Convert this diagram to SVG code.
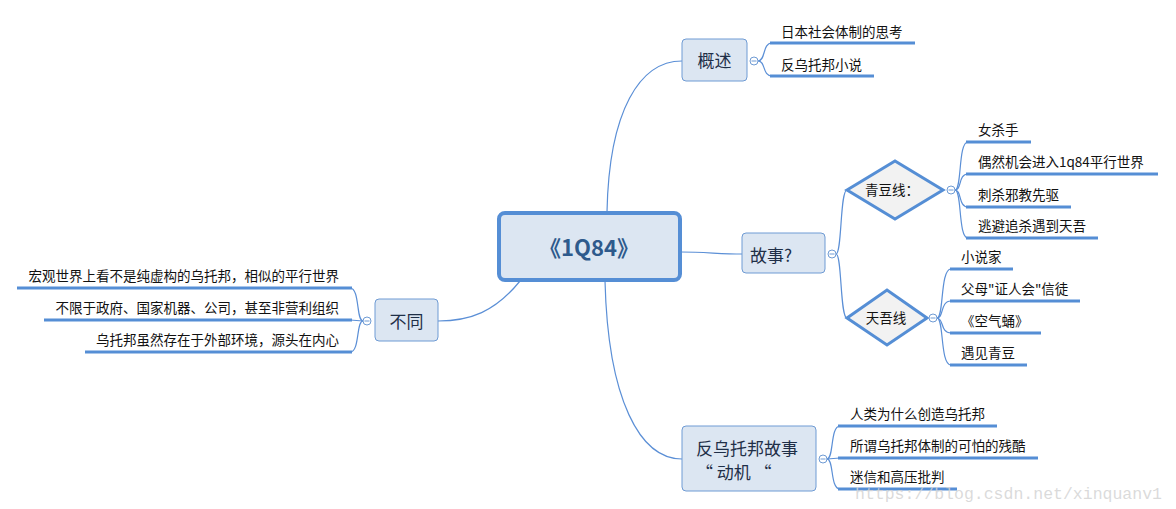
<svg xmlns="http://www.w3.org/2000/svg" width="1176" height="509" viewBox="0 0 1176 509">
<style>
.bg{fill:#ffffff}
.node{fill:#dce6f2;stroke:#6f9bd4;stroke-width:1}
.dia{fill:#f2f2f2;stroke:#558ed5;stroke-width:3}
.conn{fill:none;stroke:#5b8fd6;stroke-width:1.2}
.ul{fill:none;stroke:#558ed5;stroke-width:3}
.col{fill:#ffffff;stroke:#6f9bd4;stroke-width:1}
.minus{stroke:#6f9bd4;stroke-width:1}
text{font-family:"Noto Sans CJK SC","Noto Sans",sans-serif}
.t{font-size:13.5px;fill:#111}
.nt{font-size:17px;fill:#1f2f48;text-anchor:middle}
.dt{font-size:13.5px;fill:#111;text-anchor:middle}
.wm{font-family:"Liberation Mono","DejaVu Sans Mono",monospace;font-size:16.5px;fill:#d4d4d4;fill-opacity:0.85}
</style>
<rect class="bg" x="0" y="0" width="1176" height="509"/>
<g id="connectors">
<path class="conn" d="M607,212 C609,110 640,61 682,61"/>
<path class="conn" d="M681,252 C705,252 720,254 742,254"/>
<path class="conn" d="M605,281 C608,400 640,459 682,459"/>
<path class="conn" d="M520,281 C495,312 470,321 438,321"/>
<path class="conn" d="M836,254 C842,254 840,190 847,190"/>
<path class="conn" d="M836,254 C842,254 840,318 847,318"/>
<path class="conn" d="M758,61 C766,61 762,43 772,43"/>
<path class="conn" d="M758,61 C766,61 762,76 772,76"/>
<path class="conn" d="M955,190 C962,190 958,142 968,142"/>
<path class="conn" d="M955,190 C962,190 958,174 968,174"/>
<path class="conn" d="M955,190 C962,190 958,207 968,207"/>
<path class="conn" d="M955,190 C962,190 958,238 968,238"/>
<path class="conn" d="M937,318 C944,318 940,269 951,269"/>
<path class="conn" d="M937,318 C944,318 940,301 951,301"/>
<path class="conn" d="M937,318 C944,318 940,333 951,333"/>
<path class="conn" d="M937,318 C944,318 940,365 951,365"/>
<path class="conn" d="M827,459 C834,459 830,426 840,426"/>
<path class="conn" d="M827,459 L840,458"/>
<path class="conn" d="M827,459 C834,459 830,489 840,489"/>
<path class="conn" d="M363,321 C356,321 360,288 350,288"/>
<path class="conn" d="M363,321 L350,320"/>
<path class="conn" d="M363,321 C356,321 360,352 350,352"/>
</g>
<g id="center">
<rect x="499" y="213" width="181" height="67" rx="6" fill="#dce6f2" stroke="#558ed5" stroke-width="4"/>
<text x="589" y="256" font-size="22" font-weight="bold" fill="#2e5a8c" text-anchor="middle">《1Q84》</text>
</g>
<g id="gaishu">
<rect class="node" x="682" y="39" width="65" height="42" rx="4"/>
<text class="nt" x="714.500" y="67">概述</text>
<circle class="col" cx="754" cy="61" r="4"/><line class="minus" x1="751.500" y1="61" x2="756.500" y2="61"/>
<path class="ul" d="M770,43 H915"/><text class="t" x="781" y="37">日本社会体制的思考</text>
<path class="ul" d="M770,76 H874"/><text class="t" x="781" y="70">反乌托邦小说</text>
</g>
<g id="gushi">
<rect class="node" x="742" y="233" width="83" height="40" rx="4"/>
<text class="nt" x="771" y="262">故事?</text>
<circle class="col" cx="832" cy="254" r="4"/><line class="minus" x1="829.500" y1="254" x2="834.500" y2="254"/>
</g>
<g id="qingdou">
<polygon class="dia" points="847,190 895,161 943,190 895,219"/>
<text class="dt" x="892" y="195">青豆线：</text>
<circle class="col" cx="951" cy="190" r="4"/><line class="minus" x1="948.500" y1="190" x2="953.500" y2="190"/>
<path class="ul" d="M966,142 H1031"/><text class="t" x="978" y="135">女杀手</text>
<path class="ul" d="M966,174 H1158"/><text class="t" x="978" y="167">偶然机会进入1q84平行世界</text>
<path class="ul" d="M966,207 H1071"/><text class="t" x="978" y="200">刺杀邪教先驱</text>
<path class="ul" d="M966,238 H1098"/><text class="t" x="978" y="231">逃避追杀遇到天吾</text>
</g>
<g id="tianwu">
<polygon class="dia" points="847,318 887,290 927,318 887,345"/>
<text class="dt" x="886" y="323">天吾线</text>
<circle class="col" cx="933" cy="318" r="4"/><line class="minus" x1="930.500" y1="318" x2="935.500" y2="318"/>
<path class="ul" d="M950,269 H1013"/><text class="t" x="961" y="262">小说家</text>
<path class="ul" d="M950,301 H1080"/><text class="t" x="961" y="294">父母"证人会"信徒</text>
<path class="ul" d="M950,333 H1041"/><text class="t" x="961" y="326">《空气蛹》</text>
<path class="ul" d="M950,365 H1027"/><text class="t" x="961" y="358">遇见青豆</text>
</g>
<g id="fanwutuobang">
<rect class="node" x="682" y="426" width="134" height="65" rx="4"/>
<text x="696" y="455" font-size="17" fill="#1f2f48">反乌托邦故事</text>
<text x="696" y="479" font-size="17" fill="#1f2f48">“ 动机 “</text>
<circle class="col" cx="823" cy="459" r="4"/><line class="minus" x1="820.500" y1="459" x2="825.500" y2="459"/>
<path class="ul" d="M838,426 H997"/><text class="t" x="850" y="419">人类为什么创造乌托邦</text>
<path class="ul" d="M838,458 H1038"/><text class="t" x="850" y="451">所谓乌托邦体制的可怕的残酷</text>
<path class="ul" d="M838,489 H957"/><text class="t" x="850" y="482">迷信和高压批判</text>
</g>
<g id="butong">
<rect class="node" x="375" y="299" width="63" height="42" rx="4"/>
<text class="nt" x="406.500" y="328">不同</text>
<circle class="col" cx="367" cy="321" r="4"/><line class="minus" x1="364.500" y1="321" x2="369.500" y2="321"/>
<path class="ul" d="M17,288 H352"/><text class="t" x="339" y="281" text-anchor="end">宏观世界上看不是纯虚构的乌托邦，相似的平行世界</text>
<path class="ul" d="M44,320 H352"/><text class="t" x="339" y="313" text-anchor="end">不限于政府、国家机器、公司，甚至非营利组织</text>
<path class="ul" d="M85,352 H352"/><text class="t" x="339" y="345" text-anchor="end">乌托邦虽然存在于外部环境，源头在内心</text>
</g>
<text class="wm" x="855" y="499">https://blog.csdn.net/xinquanv1</text>
</svg>
